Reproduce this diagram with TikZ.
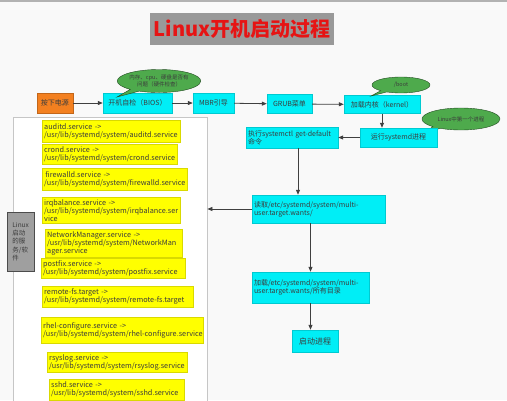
\documentclass[tikz,border=0pt]{standalone}
\usepackage{fontspec}
\setmainfont{Noto Sans CJK SC}
\usetikzlibrary{arrows.meta,positioning,shapes.callouts}
\definecolor{bgwhite}{RGB}{249,249,249}
\definecolor{boxcyan}{RGB}{0,238,246}
\definecolor{boxyellow}{RGB}{255,255,0}
\definecolor{boxorange}{RGB}{243,128,32}
\definecolor{notegreen}{RGB}{78,170,76}
\definecolor{titlered}{RGB}{230,20,20}
\definecolor{titlegray}{RGB}{153,153,153}
\definecolor{linkgray}{RGB}{64,64,64}
\definecolor{textgray}{RGB}{60,60,60}
\hyphenpenalty=10000
\exhyphenpenalty=10000

\begin{document}
\begin{tikzpicture}[x=1pt, y=-1pt,
    box/.style={rectangle, draw, inner sep=2pt, font=\fontsize{7}{8}\selectfont, text=textgray},
    cyanbox/.style={box, fill=boxcyan, draw=boxcyan!85!black},
    svcbox/.style={box, fill=boxyellow, draw=boxyellow!85!black, anchor=north west, align=left, font=\fontsize{7.3}{8}\selectfont},
    note/.style={ellipse callout, draw=notegreen!45!black, fill=notegreen, inner sep=0pt, align=center, font=\fontsize{5.5}{6.5}\selectfont, text=textgray},
    arrow/.style={-{Triangle[length=5pt, width=4pt]}, draw=linkgray, line width=0.8pt}
]
    \useasboundingbox[fill=bgwhite] (0,0) rectangle (507,400);
    \draw[gray!60, line width=1.5pt] (0,0.75) -- (507,0.75);

    % Title
    \node[fill=titlegray, minimum width=184, minimum height=32, inner sep=0pt, font=\bfseries\fontsize{20}{24}\selectfont, text=titlered] (title) at (242,29) {Linux开机启动过程};

    % Boot row
    \node[box, fill=boxorange, draw=boxorange!80!black, minimum width=36, minimum height=20] (power) at (55,103) {按下电源};
    \node[cyanbox, minimum width=69, minimum height=20] (bios) at (137.5,103) {开机自检（BIOS）};
    \node[cyanbox, minimum width=41, minimum height=20] (mbr) at (213.5,103) {MBR引导};
    \node[cyanbox, minimum width=45, minimum height=19] (grub) at (289.5,104) {GRUB菜单};
    \node[cyanbox, minimum width=76, minimum height=18] (kernel) at (382,104.5) {加载内核（kernel）};

    % Notes
    \coordinate (biostip) at (117,97);
    \coordinate (kerneltip) at (371,96);
    \coordinate (systemdtip) at (427,131);
    \node[note, minimum width=83, minimum height=23, callout absolute pointer={(biostip)}] (hwnote) at (159,81) {内存、cpu、硬盘是否有\\问题（硬件检查）};
    \node[note, minimum width=58, minimum height=16, callout absolute pointer={(kerneltip)}] (bootnote) at (401,85) {/boot};
    \node[note, minimum width=78, minimum height=22, callout absolute pointer={(systemdtip)}] (firstnote) at (461,119) {Linux中第一个进程};

    % systemd column
    \node[cyanbox, minimum width=77, minimum height=19] (systemd) at (398.5,137.5) {运行systemd进程};
    \node[cyanbox, text width=88, minimum height=21, align=left] (getdef) at (292,137.5) {执行systemctl get-default\\命令};
    \node[cyanbox, text width=129, minimum height=28, align=left] (read) at (318.5,209) {读取/etc/systemd/system/multi-\\user.target.wants/};
    \node[cyanbox, text width=113, minimum height=31, align=left] (load) at (310.5,287.5) {加载/etc/systemd/system/multi-\\user.target.wants/所有目录};
    \node[cyanbox, minimum width=46, minimum height=22, font=\fontsize{8}{9}\selectfont] (start) at (315,341) {启动进程};

    % Services panel
    \node[draw=gray!45, fill=white, minimum width=194, minimum height=290, anchor=north west, inner sep=0pt] (panel) at (13,117) {};
    \node[svcbox, text width=134, minimum height=22] (auditd) at (42,120) {auditd.service ->\\/usr/lib/systemd/system/auditd.service};
    \node[svcbox, text width=131, minimum height=20] (crond) at (42,144) {crond.service ->\\/usr/lib/systemd/system/crond.service};
    \node[svcbox, text width=141, minimum height=22] (firewalld) at (42,168) {\,firewalld.service ->\\/usr/lib/systemd/system/firewalld.service};
    \node[svcbox, text width=134, minimum height=26] (irqbalance) at (42,197) {irqbalance.service ->\\/usr/lib/systemd/system/irqbalance.ser\\vice};
    \node[svcbox, text width=133, minimum height=25] (netmanager) at (45,229) {NetworkManager.service ->\\/usr/lib/systemd/system/NetworkMan\\ager.service};
    \node[svcbox, text width=140, minimum height=20] (postfix) at (41,258) {postfix.service ->\\/usr/lib/systemd/system/postfix.service};
    \node[svcbox, text width=147, minimum height=21] (remotefs) at (42,286) {remote-fs.target ->\\/usr/lib/systemd/system/remote-fs.target};
    \node[svcbox, text width=158, minimum height=26] (rhelconf) at (41,317) {rhel-configure.service ->\\/usr/lib/systemd/system/rhel-configure.service};
    \node[svcbox, text width=136, minimum height=20] (rsyslog) at (47,352) {rsyslog.service ->\\/usr/lib/systemd/system/rsyslog.service};
    \node[svcbox, text width=131, minimum height=21] (sshd) at (49,379) {sshd.service ->\\/usr/lib/systemd/system/sshd.service};
    \node[draw=gray!60!black, fill=gray!75, minimum width=27, minimum height=59, anchor=north west, inner sep=2pt, align=left, font=\fontsize{6.5}{8.3}\selectfont, text=textgray] (svclabel) at (7,212) {Linux\\启动\\的服\\务/软\\件};

    % Arrows
    \draw[arrow] (power) -- (bios);
    \draw[arrow] (bios) -- (mbr);
    \draw[arrow] (mbr) -- (grub);
    \draw[arrow] (grub) -- (kernel);
    \draw[arrow] (kernel.south) -- (kernel.south |- systemd.north);
    \draw[arrow] (systemd) -- (getdef);
    \draw[arrow] ([xshift=6pt]getdef.south) -- ([xshift=6pt]getdef.south |- read.north);
    \draw[arrow] (read.west) -- (read.west -| panel.east);
    \draw[arrow] (load.north |- read.south) -- (load.north);
    \draw[arrow] (load.south) -- (load.south |- start.north);
\end{tikzpicture}
\end{document}
